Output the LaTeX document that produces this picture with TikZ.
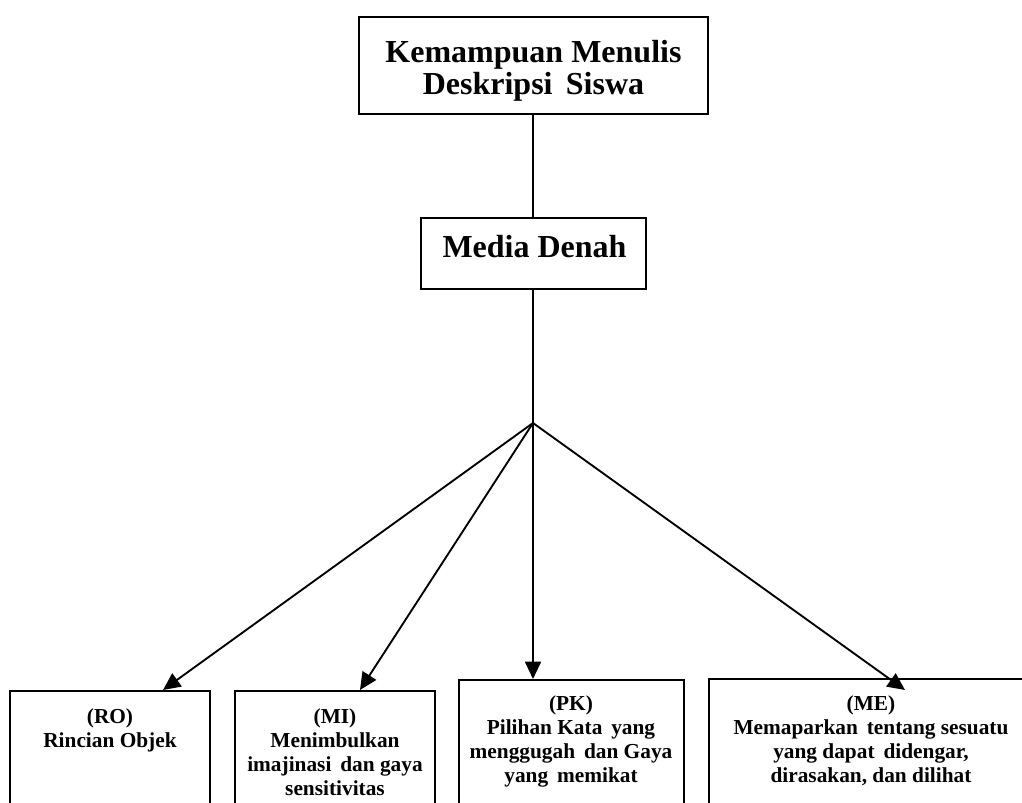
\documentclass[tikz,border=0pt]{standalone}
\usepackage{fontspec}
\setmainfont{Liberation Serif}
\usetikzlibrary{arrows.meta}
\begin{document}
\begin{tikzpicture}[x=0.75pt,y=-0.75pt,
  box/.style={draw,line width=1.7pt,inner sep=0pt},
  conn/.style={line width=1.4pt},
  arr/.style={conn,-{Triangle[length=13pt,width=12pt]}},
  bigtext/.style={font=\bfseries\fontsize{24}{24}\selectfont,align=center,inner sep=0pt},
  smalltext/.style={font=\bfseries\fontsize{16}{18}\selectfont,align=center,inner sep=0pt}]
\useasboundingbox (0,0) rectangle (1022,803);
\clip (0,0) rectangle (1022,803);
% top boxes
\node[box,minimum width=261.75pt,minimum height=72.75pt] (topBox) at (533.5,65.5) {};
\node[bigtext,anchor=north] (topText) at (533.5,40) {Kemampuan Menulis\\Deskripsi\, Siswa};
\node[box,minimum width=168.75pt,minimum height=53.25pt] (mediaBox) at (533.5,253.5) {};
\node[bigtext,anchor=north] (mediaText) at (534.5,235) {Media Denah};
% bottom boxes
\node[box,anchor=north,minimum width=150pt,minimum height=150pt] (roBox) at (110,690) {};
\node[smalltext,anchor=north] (roText) at (110,708) {(RO)\\Rincian Objek};
\node[box,anchor=north,minimum width=150pt,minimum height=150pt] (miBox) at (335,690) {};
\node[smalltext,anchor=north] (miText) at (335,708) {(MI)\\Menimbulkan\\imajinasi\, dan gaya\\sensitivitas};
\node[box,anchor=north,minimum width=168.75pt,minimum height=150pt] (pkBox) at (571.5,679) {};
\node[smalltext,anchor=north] (pkText) at (571,695) {(PK)\\Pilihan Kata\, yang\\menggugah\, dan Gaya\\yang\, memikat};
\node[box,anchor=north,minimum width=249pt,minimum height=150pt] (meBox) at (875,678) {};
\node[smalltext,anchor=north] (meText) at (871,695) {(ME)\\Memaparkan\, tentang sesuatu\\yang dapat\, didengar,\\dirasakan, dan dilihat};
% connectors
\coordinate (branch) at (533,423);
\coordinate (roTip) at (163,690);
\coordinate (miTip) at (360,690);
\coordinate (pkTip) at (533,679);
\coordinate (meTip) at (905,690);
\draw[conn] (topBox.south -| branch) -- (mediaBox.north -| branch);
\draw[conn] (mediaBox.south -| branch) -- (branch);
\draw[arr] (branch) -- (roTip);
\draw[arr] (branch) -- (miTip);
\draw[arr] (branch) -- (pkTip);
\draw[arr] (branch) -- (meTip);
\end{tikzpicture}
\end{document}
